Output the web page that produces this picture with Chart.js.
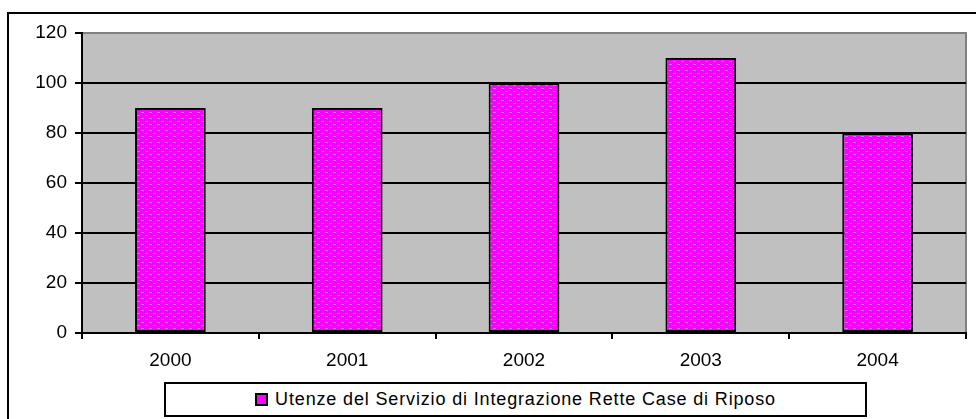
<!DOCTYPE html>
<html>
<head>
<meta charset="utf-8">
<script src="https://cdn.jsdelivr.net/npm/chart.js@4"></script>
<style>
  body { margin: 0; background: #fff; }
  #wrap { position: relative; width: 976px; height: 419px; overflow: hidden; }
  #frame { position: absolute; left: 7px; top: 12px; width: 1000px; height: 500px; border: 2px solid #000; }
  #legendBox {
    position: absolute; left: 164px; top: 382px; width: 699px; height: 31px;
    border: 2px solid #000; background: #fff;
    display: flex; align-items: center; justify-content: center;
    font-family: "Liberation Sans", Arial, sans-serif; font-size: 18px; letter-spacing: 0.85px; color: #000;
  }
  #legendBox .mark { width: 9px; height: 9px; border: 2px solid #000; background: #ff00ff; margin-right: 7px; }
</style>
</head>
<body>
<div id="wrap">
  <div id="frame"></div>
  <canvas id="rette" width="976" height="419"></canvas>
  <div id="legendBox"><span class="mark"></span><span>Utenze del Servizio di Integrazione Rette Case di Riposo</span></div>
</div>
<script>
// Utenze per anno
const years = ['2000', '2001', '2002', '2003', '2004'];
const utenze = [90, 90, 100, 110, 80];
const yTicks = [0, 20, 40, 60, 80, 100, 120];

// magenta fill with small bluish dashes
function makePattern() {
  const c = document.createElement('canvas');
  c.width = 8; c.height = 6;
  const g = c.getContext('2d');
  g.fillStyle = '#ff00ff';
  g.fillRect(0, 0, 8, 6);
  g.fillStyle = '#a488ff';
  g.fillRect(1, 1, 3, 1);
  g.fillRect(5, 4, 3, 1);
  return g.createPattern(c, 'repeat');
}

const plotBg = {
  id: 'plotBg',
  beforeDraw(chart) {
    const { ctx, chartArea: a } = chart;
    ctx.save();
    ctx.fillStyle = '#c0c0c0';
    ctx.fillRect(a.left, a.top, a.right - a.left, a.bottom - a.top);
    ctx.fillStyle = '#808080';
    ctx.fillRect(a.left, a.top - 1, a.right - a.left + 1, 2);
    ctx.fillRect(a.right - 1, a.top - 1, 2, a.bottom - a.top + 1);
    ctx.restore();
  }
};

const font = { family: '"Liberation Sans", Arial, sans-serif', size: 19 };

new Chart(document.getElementById('rette'), {
  type: 'bar',
  data: {
    labels: years,
    datasets: [{
      label: 'Utenze del Servizio di Integrazione Rette Case di Riposo',
      data: utenze,
      backgroundColor: makePattern(),
      borderColor: '#000',
      borderWidth: 2,
      borderSkipped: false,
      barPercentage: 0.4,
      categoryPercentage: 1
    }]
  },
  options: {
    responsive: false,
    animation: false,
    layout: { padding: { top: 33, right: 10, left: 0, bottom: 0 } },
    plugins: { legend: { display: false }, tooltip: { enabled: false } },
    scales: {
      x: {
        afterFit: s => { s.height = 86; },
        border: { color: '#000', width: 2 },
        grid: { drawOnChartArea: false, drawTicks: true, tickLength: 6, tickColor: '#000', lineWidth: 2 },
        ticks: { color: '#000', font: font, padding: 10 }
      },
      y: {
        min: 0,
        max: 120,
        afterFit: s => { s.width = 82; },
        afterBuildTicks: s => { s.ticks = yTicks.map(v => ({ value: v })); },
        border: { color: '#000', width: 2 },
        grid: {
          color: c => (c.tick && c.tick.value === 120) ? 'rgba(0,0,0,0)' : '#000',
          tickColor: '#000',
          lineWidth: 2,
          tickLength: 7
        },
        ticks: { color: '#000', font: font, padding: 8 }
      }
    }
  },
  plugins: [plotBg]
});
</script>
</body>
</html>
